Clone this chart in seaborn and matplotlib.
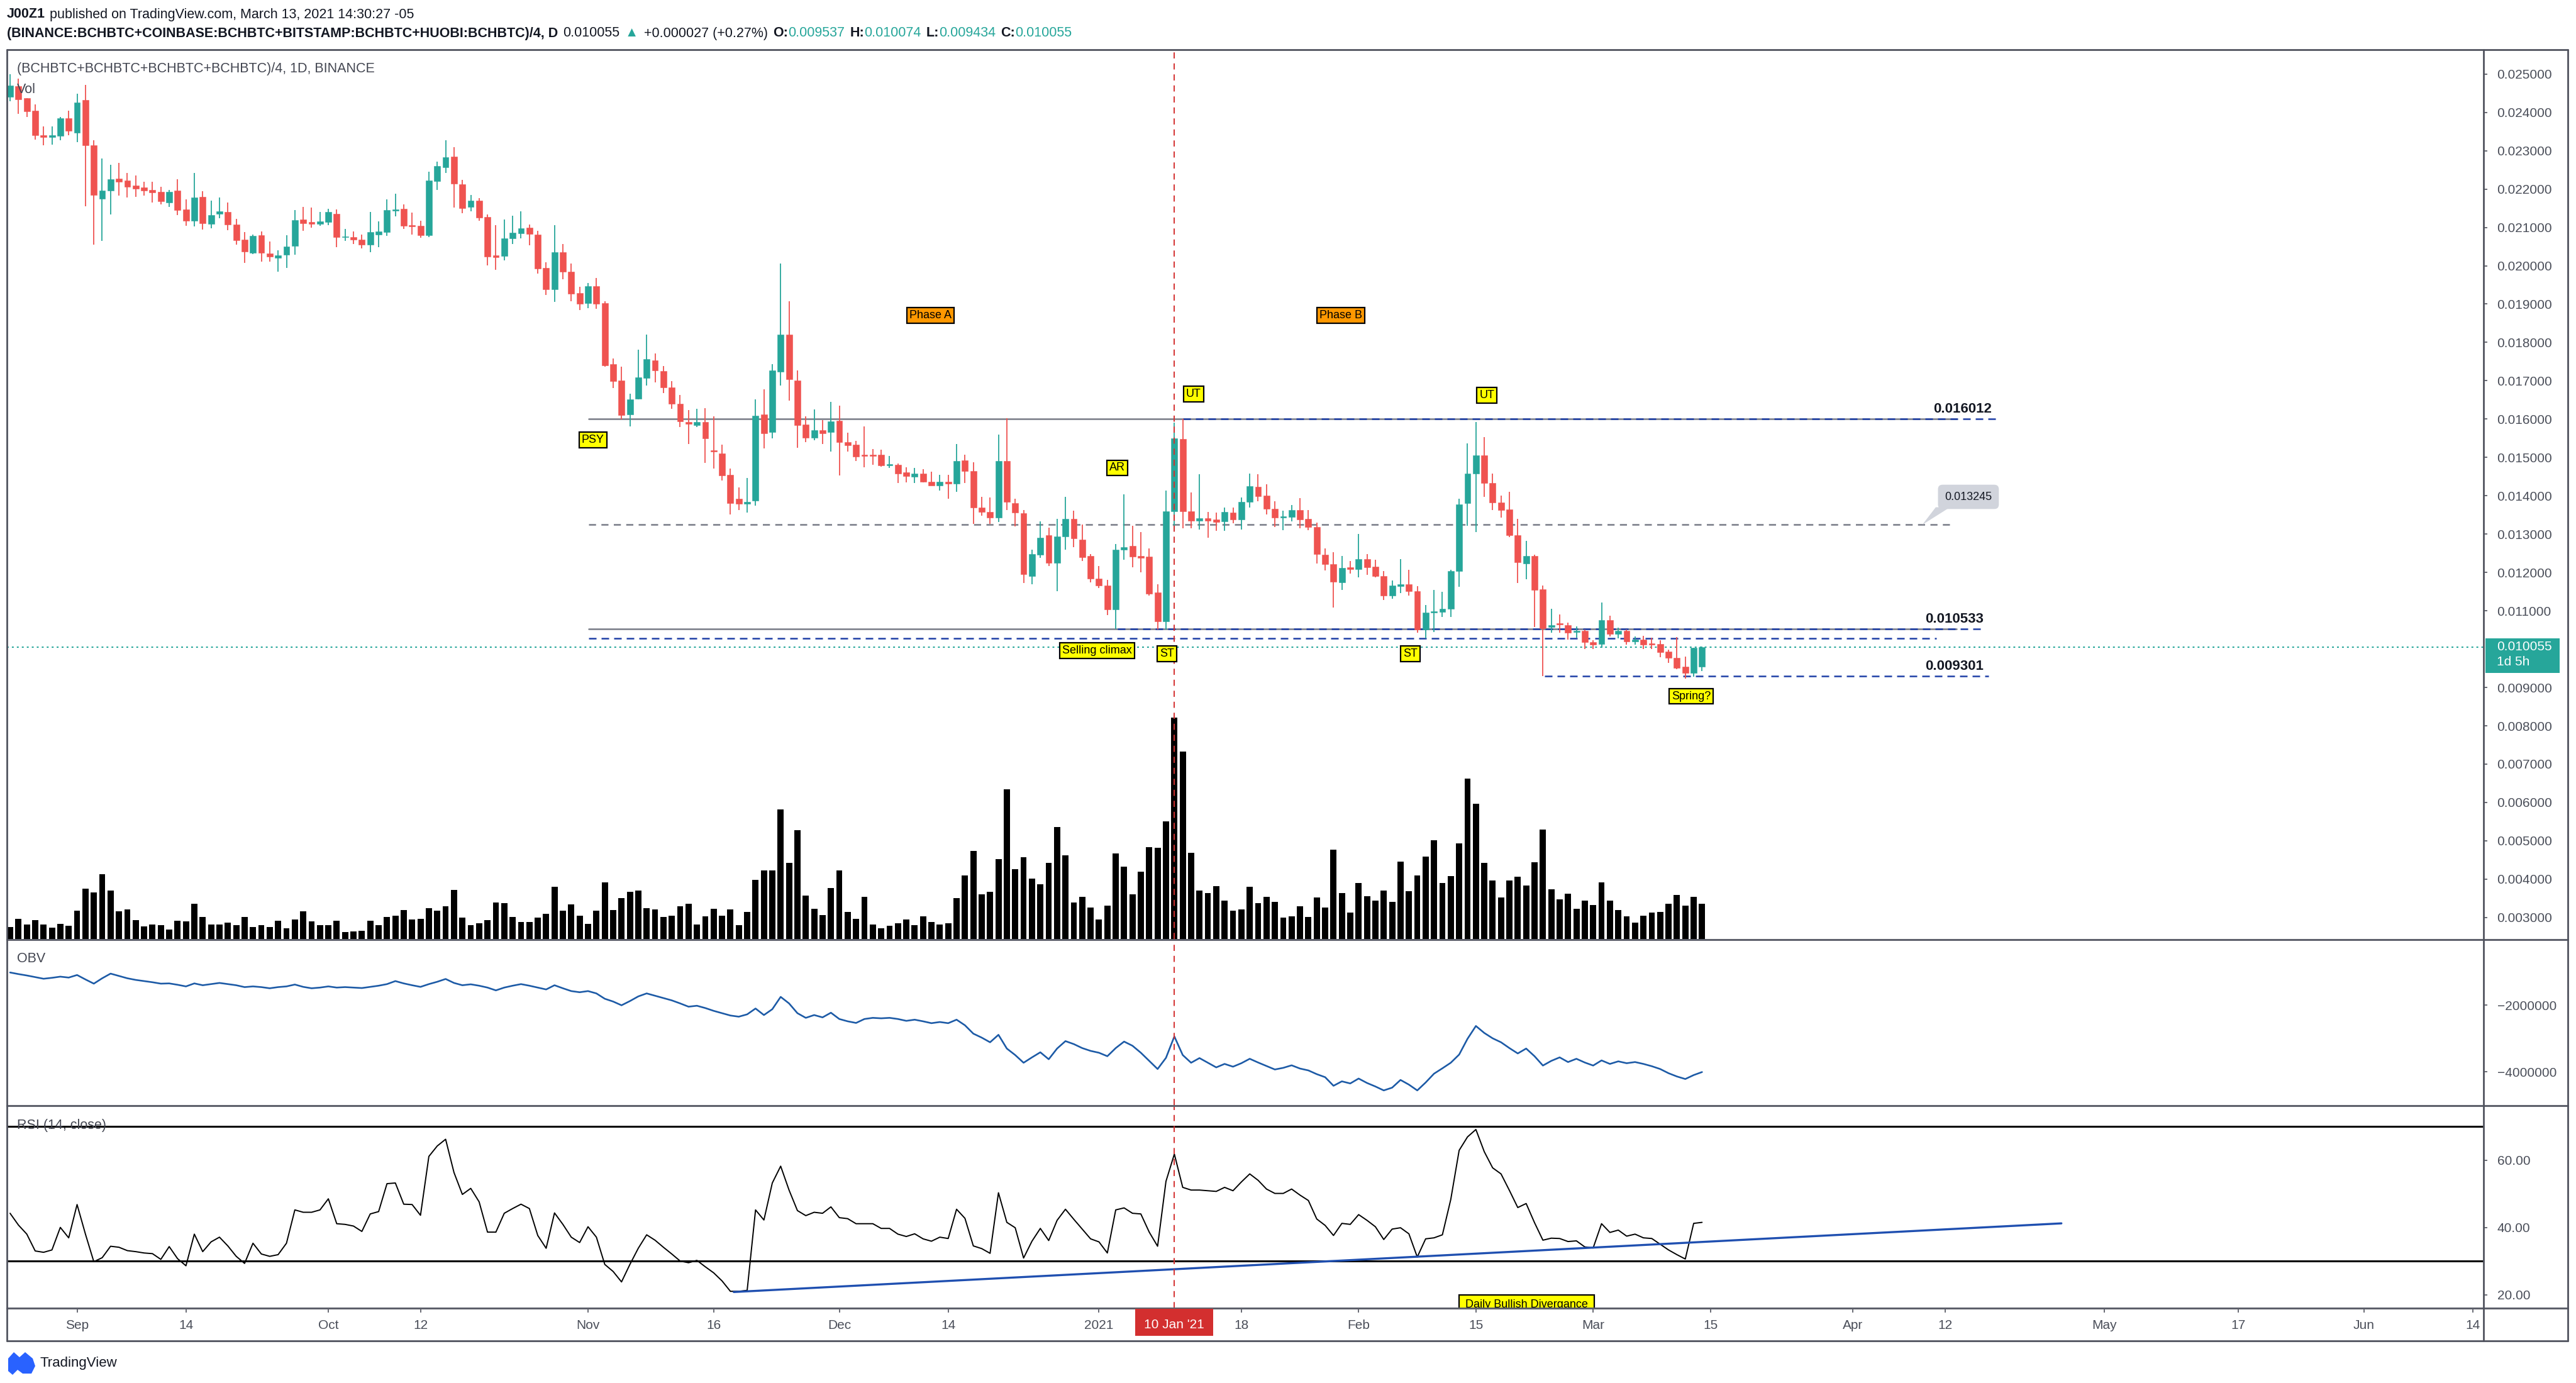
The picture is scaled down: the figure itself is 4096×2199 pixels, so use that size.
import numpy as np
import pandas as pd
import matplotlib
matplotlib.use("Agg")
import matplotlib.pyplot as plt
import seaborn as sns
from matplotlib.lines import Line2D
from matplotlib.patches import Rectangle, Polygon
from matplotlib.offsetbox import TextArea, HPacker, AnnotationBbox

# ---------------- data ----------------
start_date = "2020-08-24"

opens = [
    .024405, .024678, .024378, .024044, .023399, .023350, .023393, .023842, .023475, .024317,
    .023136, .021742, .021966, .022273, .022223, .022087, .022043, .021977, .021923, .021655,
    .021966, .021469, .021179, .021797, .021097, .021348, .021398, .021075, .020676, .020337,
    .020796, .020326, .020211, .020293, .020512, .021201, .021135, .021097, .021146, .021354,
    .020741, .020747, .020687, .020556, .020818, .020873, .021441, .021485, .021064, .021037,
    .020796, .022212, .022573, .022847, .022119, .021540, .021698, .021272, .020271, .020260,
    .020714, .020845, .020987, .020813, .019943, .019385, .020359, .019839, .019282, .019025,
    .019473, .019018, .017425, .017005, .016123, .016528, .017069, .017531, .017247, .016820,
    .016393, .015931, .015845, .015931, .015177, .015105, .014550, .013924, .013796, .013868,
    .016123, .015660, .017240, .018207, .017012, .015860, .015518, .015717, .015653, .015959,
    .015397, .015326, .015070, .015063, .015077, .014792, .014814, .014614, .014494, .014579,
    .014366, .014273, .014366, .014309, .014920, .014636, .013690, .013583, .013426, .014913,
    .013811, .013547, .011911, .012459, .012978, .012253, .012943, .013391, .012850, .012423,
    .011840, .011662, .011043, .012587, .012693, .012428, .012408, .011476, .010721, .013598,
    .015482, .013598, .013347, .013421, .013387, .013326, .013564, .013380, .013836, .014231,
    .014000, .013666, .013428, .013449, .013632, .013394, .013190, .012462, .012218, .011741,
    .012136, .012082, .012354, .012156, .011898, .011401, .011646, .011694, .011503, .010517,
    .010946, .010966, .011048, .012034, .013802, .014571, .015047, .014333, .013816, .013646,
    .012966, .012238, .012428, .011558, .010572, .010660, .010626, .010449, .010470, .010177,
    .010130, .010755, .010388, .010470, .010198, .010245, .010143, .010130, .009937, .009776,
    .009546, .009373, .009537,
]
highs = [
    .024990, .024881, .024380, .024203, .023634, .023634, .023880, .024044, .024482, .024717,
    .023268, .022792, .022639, .022683, .022420, .022349, .022190, .022190, .022059, .021977,
    .022256, .021737, .022420, .021950, .021693, .021786, .021649, .021217, .020873, .020818,
    .020900, .020632, .020408, .020791, .021452, .021529, .021518, .021398, .021491, .021463,
    .020960, .020900, .020818, .021398, .021157, .021726, .021873, .021600, .021381, .021173,
    .022447, .022721, .023268, .023093, .022240, .021846, .021764, .021337, .021064, .021201,
    .021299, .021419, .021070, .020916, .020085, .021064, .020561, .020058, .019457, .019549,
    .019680, .019075, .017588, .017361, .016663, .017809, .018207, .017709, .017389, .016998,
    .016628, .016229, .016272, .016286, .016073, .015326, .014707, .014223, .014458, .016514,
    .016784, .017425, .020057, .019075, .017261, .016073, .016251, .015966, .016443, .016357,
    .015646, .015433, .015802, .015219, .015205, .015041, .014849, .014736, .014721, .014686,
    .014629, .014543, .014543, .015347, .015077, .014878, .013974, .013953, .015596, .016023,
    .013924, .013619, .012587, .013334, .013170, .013391, .013974, .013604, .013242, .012480,
    .012160, .011804, .012744, .014045, .013224, .013054, .012626, .011694, .014142, .015910,
    .016012, .014088, .014564, .013578, .013564, .013700, .013687, .013959, .014584, .014564,
    .014292, .013850, .013612, .013755, .013938, .013619, .013292, .012626, .012530, .012422,
    .012306, .013000, .012476, .012326, .012034, .011796, .012340, .012068, .011639, .011150,
    .011537, .011490, .012068, .013918, .015366, .015924, .015536, .014584, .014006, .014108,
    .013394, .012830, .012462, .011660, .011048, .010898, .010687, .010585, .010504, .010232,
    .011218, .010878, .010558, .010504, .010334, .010354, .010300, .010232, .009983, .010311,
    .009811, .010040, .010074,
]
lows = [
    .024296, .023968, .023886, .023290, .023142, .023159, .023279, .023410, .023229, .021545,
    .020556, .020654, .021343, .021830, .021775, .021802, .021830, .021655, .021594, .021534,
    .021327, .021042, .021026, .020949, .020982, .021244, .020933, .020550, .020080, .020298,
    .020113, .020113, .019850, .019949, .020293, .020916, .020998, .021037, .021064, .020484,
    .020654, .020561, .020452, .020359, .020479, .020780, .021288, .020960, .020818, .020731,
    .020741, .021977, .022420, .021518, .021370, .021425, .021179, .020014, .019894, .020135,
    .020572, .020714, .020539, .019790, .019232, .019057, .019648, .019074, .018850, .018893,
    .018883, .017375, .016806, .015988, .015802, .016514, .016877, .016962, .016670, .016272,
    .015788, .015347, .015788, .014863, .014707, .014401, .013512, .013633, .013569, .013740,
    .015241, .015504, .016870, .016486, .015255, .015397, .015447, .015347, .015148, .014522,
    .015148, .014899, .014736, .014807, .014757, .014721, .014330, .014351, .014330, .014344,
    .014259, .014138, .013924, .014095, .014330, .013263, .013476, .013263, .013313, .013619,
    .013206, .011719, .011698, .012388, .012175, .011506, .012587, .012658, .012303, .011747,
    .011591, .010880, .010524, .012338, .012136, .012000, .011401, .010517, .010517, .013088,
    .013156, .013156, .013122, .012898, .013088, .013088, .013278, .013122, .013687, .013850,
    .013510, .013190, .013102, .013326, .013156, .013102, .012238, .012054, .011082, .011537,
    .011966, .011878, .011932, .011864, .011286, .011320, .011456, .011401, .010436, .010286,
    .010449, .010844, .010844, .011626, .013224, .013054, .013972, .013619, .013428, .012918,
    .011728, .011830, .010572, .009301, .010422, .010436, .010245, .010300, .009994, .009994,
    .010041, .010334, .010286, .010109, .010109, .009994, .009994, .009789, .009638, .009477,
    .009229, .009275, .009434,
]
closes = [
    .024700, .024345, .024028, .023410, .023350, .023399, .023842, .023514, .024257, .023142,
    .021851, .021966, .022251, .022196, .022065, .022015, .021955, .021912, .021687, .021934,
    .021458, .021179, .021780, .021108, .021321, .021425, .021070, .020670, .020364, .020780,
    .020331, .020233, .020271, .020495, .021184, .021113, .021097, .021152, .021398, .020741,
    .020763, .020681, .020545, .020873, .020900, .021452, .021463, .021042, .021026, .020796,
    .022218, .022601, .022830, .022136, .021507, .021698, .021261, .020244, .020228, .020714,
    .020856, .020982, .020834, .019932, .019385, .020359, .019839, .019276, .019014, .019473,
    .019004, .017403, .016983, .016101, .016521, .017083, .017567, .017261, .016827, .016393,
    .015945, .015874, .015931, .015504, .015148, .014536, .013811, .013796, .013846, .016094,
    .015625, .017261, .018207, .017033, .015845, .015518, .015717, .015625, .015945, .015397,
    .015312, .015027, .015041, .015034, .014792, .014821, .014579, .014508, .014579, .014366,
    .014273, .014366, .014309, .014899, .014650, .013690, .013583, .013426, .014913, .013832,
    .013569, .011947, .012480, .012907, .012253, .012943, .013391, .012886, .012395, .011840,
    .011662, .011043, .012587, .012666, .012408, .012388, .011442, .010721, .013598, .015489,
    .013598, .013347, .013415, .013347, .013313, .013578, .013380, .013836, .014258, .013986,
    .013666, .013428, .013449, .013619, .013374, .013190, .012476, .012224, .011762, .012116,
    .012082, .012354, .012136, .011898, .011401, .011660, .011694, .011503, .010517, .010946,
    .010980, .011048, .012034, .013782, .014571, .015060, .014333, .013816, .013619, .012966,
    .012258, .012428, .011537, .010538, .010626, .010640, .010436, .010483, .010177, .010109,
    .010755, .010388, .010470, .010198, .010252, .010116, .010109, .009926, .009776, .009506,
    .009373, .010028, .010055,
]
# volume, relative units (bar heights as read)
volume = [
    57, 97, 70, 89, 70, 54, 72, 62, 134, 240,
    222, 309, 230, 131, 140, 89, 59, 70, 65, 46,
    87, 84, 167, 106, 70, 70, 79, 65, 106, 56,
    65, 56, 87, 52, 92, 131, 84, 67, 67, 87,
    32, 35, 38, 87, 67, 106, 112, 137, 92, 97,
    147, 134, 155, 235, 103, 67, 76, 89, 175, 172,
    106, 82, 82, 103, 119, 250, 134, 164, 112, 73,
    134, 271, 137, 195, 224, 232, 147, 140, 106, 112,
    155, 167, 70, 109, 145, 112, 140, 67, 128, 282,
    326, 328, 617, 362, 520, 207, 145, 115, 244, 326,
    128, 95, 202, 70, 52, 62, 74, 92, 65, 107,
    82, 68, 74, 194, 302, 419, 214, 224, 380, 713,
    332, 389, 287, 260, 362, 535, 400, 175, 200, 150,
    92, 158, 408, 345, 212, 320, 438, 436, 560, 1055,
    894, 410, 232, 219, 251, 184, 134, 142, 249, 172,
    200, 177, 101, 107, 155, 104, 197, 150, 427, 219,
    125, 268, 205, 183, 230, 177, 370, 227, 304, 392,
    472, 266, 301, 455, 765, 645, 362, 280, 198, 280,
    298, 255, 365, 521, 238, 188, 216, 145, 183, 161,
    271, 183, 137, 109, 79, 112, 125, 128, 167, 211,
    158, 202, 167,
]
# OBV in millions
obv_m = [
    -1.022, -1.070, -1.112, -1.161, -1.210, -1.182, -1.147, -1.175, -1.098, -1.231,
    -1.357, -1.196, -1.056, -1.126, -1.196, -1.245, -1.280, -1.315, -1.357, -1.350,
    -1.391, -1.440, -1.350, -1.405, -1.371, -1.336, -1.371, -1.405, -1.461, -1.440,
    -1.461, -1.496, -1.461, -1.440, -1.384, -1.454, -1.496, -1.475, -1.440, -1.475,
    -1.461, -1.475, -1.489, -1.454, -1.419, -1.371, -1.280, -1.350, -1.405, -1.454,
    -1.371, -1.301, -1.217, -1.336, -1.405, -1.377, -1.419, -1.475, -1.559, -1.475,
    -1.419, -1.371, -1.419, -1.475, -1.531, -1.405, -1.496, -1.580, -1.615, -1.580,
    -1.650, -1.810, -1.894, -2.006, -1.880, -1.740, -1.650, -1.720, -1.789, -1.859,
    -1.950, -2.048, -2.020, -2.089, -2.173, -2.243, -2.313, -2.348, -2.278, -2.103,
    -2.299, -2.124, -1.754, -1.950, -2.243, -2.383, -2.299, -2.369, -2.229, -2.418,
    -2.487, -2.536, -2.418, -2.383, -2.397, -2.383, -2.418, -2.473, -2.438, -2.487,
    -2.543, -2.508, -2.543, -2.438, -2.606, -2.857, -2.976, -3.116, -2.892, -3.304,
    -3.499, -3.730, -3.569, -3.416, -3.625, -3.304, -3.081, -3.171, -3.290, -3.374,
    -3.430, -3.534, -3.290, -3.095, -3.220, -3.430, -3.674, -3.918, -3.583, -2.941,
    -3.499, -3.730, -3.590, -3.730, -3.869, -3.765, -3.848, -3.744, -3.611, -3.723,
    -3.827, -3.932, -3.883, -3.807, -3.904, -3.960, -4.072, -4.163, -4.421, -4.288,
    -4.351, -4.204, -4.337, -4.442, -4.560, -4.477, -4.246, -4.386, -4.560, -4.323,
    -4.058, -3.897, -3.730, -3.485, -3.011, -2.627, -2.836, -2.997, -3.116, -3.290,
    -3.451, -3.304, -3.534, -3.814, -3.674, -3.569, -3.709, -3.611, -3.723, -3.814,
    -3.660, -3.765, -3.688, -3.744, -3.709, -3.765, -3.834, -3.918, -4.044, -4.142,
    -4.218, -4.100, -4.009,
]
rsi = [
    44.2, 40.7, 38.0, 33.0, 32.6, 33.3, 40.0, 36.9, 46.8, 38.0,
    29.8, 31.0, 34.4, 34.1, 33.1, 32.8, 32.4, 32.2, 30.5, 34.3,
    30.7, 28.6, 38.0, 32.8, 35.7, 37.1, 34.5, 31.4, 29.3, 35.3,
    32.1, 31.4, 31.9, 35.3, 45.2, 44.5, 44.5, 45.2, 48.5, 41.1,
    40.9, 40.4, 38.8, 44.0, 44.7, 53.0, 53.2, 46.9, 46.8, 43.6,
    61.1, 64.2, 66.2, 56.3, 49.8, 51.6, 47.6, 38.6, 38.6, 44.2,
    45.6, 46.9, 45.6, 37.6, 33.8, 44.3, 40.9, 37.1, 35.5, 40.2,
    37.1, 29.0, 26.9, 23.8, 29.0, 33.8, 37.8, 36.2, 34.1, 32.1,
    30.0, 29.5, 30.2, 28.3, 26.5, 24.1, 21.0, 21.0, 21.3, 45.2,
    42.2, 53.2, 58.2, 51.1, 45.0, 43.5, 44.5, 44.2, 46.1, 42.9,
    42.6, 41.1, 41.1, 41.1, 39.7, 39.7, 38.0, 37.3, 38.1, 36.6,
    35.9, 37.1, 36.7, 45.4, 42.7, 34.5, 33.7, 32.3, 50.3, 41.5,
    39.9, 30.9, 35.9, 39.7, 36.1, 42.1, 45.4, 42.4, 39.5, 36.6,
    35.7, 32.4, 45.2, 45.8, 44.2, 44.0, 38.6, 34.4, 53.7, 61.8,
    51.9, 51.1, 51.1, 50.9, 50.7, 51.9, 50.9, 53.5, 55.9, 54.0,
    51.4, 50.1, 50.1, 51.4, 49.6, 48.0, 42.5, 40.6, 37.6, 41.2,
    40.9, 43.8, 42.1, 40.2, 36.4, 39.5, 39.9, 38.1, 31.2, 36.6,
    36.9, 37.8, 48.3, 62.9, 66.9, 69.1, 62.5, 57.7, 55.9, 51.0,
    45.9, 47.1, 41.4, 36.2, 36.8, 36.7, 35.8, 36.0, 34.2, 33.9,
    41.1, 38.5, 39.2, 37.4, 38.0, 36.9, 36.7, 35.0, 33.3, 31.9,
    30.6, 41.2, 41.5,
]

# drawn levels / markers
level_top = 0.016012
level_mid = 0.013245
level_low = 0.010533
level_low_b = 0.010280
level_spring = 0.009301
last_price = 0.010055
marker_date = "2021-01-10"
rsi_bands = [70, 30]
trend_x = [86.4, 244.9]
trend_y = [20.8, 41.2]

price_ticks = [round(0.003 + 0.001 * k, 3) for k in range(23) if k != 7]
obv_ticks = [-2, -4]
obv_tick_labels = ["\u22122000000", "\u22124000000"]
rsi_ticks = [20, 40, 60]
tick_dates = ["2020-09-01", "2020-09-14", "2020-10-01", "2020-10-12", "2020-11-01",
              "2020-11-16", "2020-12-01", "2020-12-14", "2021-01-01", "2021-01-18",
              "2021-02-01", "2021-02-15", "2021-03-01", "2021-03-15", "2021-04-01",
              "2021-04-12", "2021-05-01", "2021-05-17", "2021-06-01", "2021-06-14"]
tick_labels = ["Sep", "14", "Oct", "12", "Nov", "16", "Dec", "14", "2021", "18",
               "Feb", "15", "Mar", "15", "Apr", "12", "May", "17", "Jun", "14"]

for arr in (opens, highs, lows, closes, volume, obv_m, rsi):
    assert len(arr) == 203, len(arr)

# ---------------- style ----------------
UP, DOWN = "#26a69a", "#ef5350"
TEAL = "#26a69a"
TEXT = "#131722"
AXIS_TEXT = "#4a4e59"
TITLE = "#434651"
FRAME = "#50535e"
GRAY = "#787b86"
BLUE = "#1e3fa6"
OBV_BLUE = "#1c5aa6"
VRED = "#d32f2f"
YELLOW, ORANGE = "#ffff00", "#ff9800"

W, H, DPI = 4096, 2199, 100

sns.set_style("white")
plt.rcParams["font.family"] = ["Liberation Sans", "DejaVu Sans"]

df = pd.DataFrame({
    "date": pd.date_range(start_date, periods=len(closes), freq="D"),
    "open": opens, "high": highs, "low": lows, "close": closes,
    "volume": volume, "obv": obv_m, "rsi": rsi,
})
t0 = df["date"].iloc[0]
df["x"] = (df["date"] - t0).dt.days
marker_x = (pd.Timestamp(marker_date) - t0).days
tick_x = [(pd.Timestamp(d) - t0).days for d in tick_dates]


def rect(x0, y0, x1, y1):
    return [x0 / W, 1 - y1 / H, (x1 - x0) / W, (y1 - y0) / H]


def fline(x0, y0, x1, y1, **kw):
    fig.add_artist(Line2D([x0 / W, x1 / W], [1 - y0 / H, 1 - y1 / H],
                          transform=fig.transFigure, **kw))


fig = plt.figure(figsize=(W / DPI, H / DPI), dpi=DPI)
fig.patch.set_facecolor("white")

XLIM = (-0.375, 295.3)
ax_vol = fig.add_axes(rect(11, 79, 3949, 1493), label="vol")
ax = fig.add_axes(rect(11, 79, 3949, 1493), label="price")
ax_obv = fig.add_axes(rect(11, 1495, 3949, 1757), label="obv")
ax_rsi = fig.add_axes(rect(11, 1759, 3949, 2080), label="rsi")
ax_vol.set_zorder(0)
ax.set_zorder(1)
ax.patch.set_alpha(0)

for a in (ax_vol, ax, ax_obv, ax_rsi):
    a.set_xlim(*XLIM)
    for s in a.spines.values():
        s.set_visible(False)

# volume overlay
ax_vol.bar(df["x"], df["volume"], width=0.74, color="black", linewidth=0)
ax_vol.set_ylim(0, df["volume"].max() / 0.2487)
ax_vol.axis("off")

# candles
ax.set_ylim(0.002439, 0.025635)
up = df["close"] >= df["open"]
colors = np.where(up, UP, DOWN)
ax.vlines(df["x"], df["low"], df["high"], colors=colors, lw=1.3, zorder=3)
body = (df["close"] - df["open"]).abs().clip(lower=0.00003)
ax.bar(df["x"], body, bottom=np.minimum(df["open"], df["close"]), width=0.74,
       color=colors, edgecolor=colors, linewidth=0.4, zorder=4)

# levels
ax.plot([69.1, 232.4], [level_top] * 2, color=GRAY, lw=1.8, zorder=2)
ax.plot([69.1, 232.4], [level_low] * 2, color=GRAY, lw=1.8, zorder=2)
ax.plot([69.1, 231.6], [level_mid] * 2, color=GRAY, lw=1.8, ls=(0, (4.5, 3.4)), zorder=2)
dash_blue = (0, (4.8, 3.2))
ax.plot([140.0, 237.1], [level_top] * 2, color=BLUE, lw=1.8, ls=dash_blue, zorder=2)
ax.plot([132.2, 235.6], [level_low] * 2, color=BLUE, lw=1.8, ls=dash_blue, zorder=2)
ax.plot([69.1, 230.0], [level_low_b] * 2, color=BLUE, lw=1.8, ls=dash_blue, zorder=2)
ax.plot([183.2, 236.2], [level_spring] * 2, color=BLUE, lw=1.8, ls=dash_blue, zorder=2)
ax.axhline(last_price, color=TEAL, lw=1.5, ls=(0, (1.4, 2.4)), zorder=2)

for txt, xx, yy in [("0.016012", 236.6, 0.016260), ("0.010533", 235.6, 0.010782),
                    ("0.009301", 235.6, 0.009552)]:
    ax.text(xx, yy, txt, ha="right", va="center", fontsize=16, fontweight="bold",
            color=TEXT, zorder=6)

# callout for the middle level
ax.text(233.8, 0.013971, "0.013245", ha="center", va="center", fontsize=13, color=TEXT,
        zorder=7, bbox=dict(boxstyle="round,pad=0.6,rounding_size=0.4", fc="#d1d4dc", ec="none"))
ax.add_patch(Polygon([(229.9, 0.01370), (231.6, 0.01370), (228.3, level_mid)],
                     closed=True, fc="#d1d4dc", ec="none", zorder=7))

# wyckoff labels
wyckoff_labels = [
    ("PSY", 69.6, 0.015461, YELLOW),
    ("Phase A", 109.9, 0.018700, ORANGE),
    ("AR", 132.2, 0.014726, YELLOW),
    ("Selling climax", 129.8, 0.009962, YELLOW),
    ("ST", 138.1, 0.009874, YELLOW),
    ("UT", 141.3, 0.016655, YELLOW),
    ("Phase B", 158.9, 0.018702, ORANGE),
    ("UT", 176.3, 0.016614, YELLOW),
    ("ST", 167.2, 0.009874, YELLOW),
    ("Spring?", 200.7, 0.008771, YELLOW),
]
for txt, xx, yy, fc in wyckoff_labels:
    ax.text(xx, yy, txt, ha="center", va="center", fontsize=13, color="black", zorder=8,
            bbox=dict(boxstyle="square,pad=0.22", fc=fc, ec="black", lw=1.6))

# OBV pane
sns.lineplot(data=df, x="x", y="obv", ax=ax_obv, color=OBV_BLUE, lw=1.9)
ax_obv.set_ylim(-4.998, -0.055)

# RSI pane
sns.lineplot(data=df, x="x", y="rsi", ax=ax_rsi, color="black", lw=1.4)
for b in rsi_bands:
    ax_rsi.axhline(b, color="black", lw=2.2)
ax_rsi.plot(trend_x, trend_y, color="#1f4fb0", lw=2.4)
ax_rsi.set_ylim(16.0, 76.0)
# note box sitting on the pane bottom (clipped there, as in the source)
ax_rsi.add_patch(Rectangle((173.0, 14.0), 16.1, 5.92, fc=YELLOW, ec="black", lw=1.6, zorder=8))
ax_rsi.text(181.05, 16.25, "Daily Bullish Divergance", ha="center", va="baseline",
            fontsize=13, color="black", zorder=9, clip_on=True)

for a in (ax, ax_obv, ax_rsi):
    a.axvline(marker_x, color=VRED, lw=1.4, ls=(0, (5, 4)), zorder=5)
    a.set_xlabel("")
    a.set_ylabel("")
    a.grid(False)

# right-hand scales
ax.yaxis.tick_right()
ax.set_yticks(price_ticks)
ax.set_yticklabels([f"{t:.6f}" for t in price_ticks])
ax_obv.yaxis.tick_right()
ax_obv.set_yticks(obv_ticks)
ax_obv.set_yticklabels(obv_tick_labels)
ax_rsi.yaxis.tick_right()
ax_rsi.set_yticks(rsi_ticks)
ax_rsi.set_yticklabels([f"{t:.2f}" for t in rsi_ticks])
for a in (ax, ax_obv, ax_rsi):
    a.tick_params(axis="y", which="both", right=True, left=False, direction="out", length=4.5,
                  width=1.2, pad=11, labelsize=15, colors=FRAME, labelcolor=AXIS_TEXT)
ax.set_xticks([])
ax_obv.set_xticks([])
ax_rsi.set_xticks(tick_x)
ax_rsi.set_xticklabels(tick_labels)
ax_rsi.tick_params(axis="x", bottom=True, direction="out", length=5, width=1.2, pad=8,
                   labelsize=15, colors=FRAME, labelcolor=AXIS_TEXT)

# frame
for y in (79, 2132):
    fline(11, y, 4083, y, color=FRAME, lw=2.0)
for y in (1494, 1758, 2080):
    fline(11, y, 4083, y, color="#5d606b", lw=2.2)
for x in (11, 3949, 4083):
    fline(x, 79, x, 2132, color=FRAME, lw=2.0)

# last price tag on the scale
y_line = H - ax.transData.transform((0, last_price))[1]
fig.add_artist(Rectangle((3952 / W, 1 - (y_line + 41) / H), 118 / W, 55 / H,
                         transform=fig.transFigure, fc=TEAL, ec="none", zorder=6))
fig.text(3970 / W, 1 - y_line / H, "0.010055", color="white", fontsize=15, va="center", zorder=7)
fig.text(3970 / W, 1 - (y_line + 24) / H, "1d 5h", color="white", fontsize=15, va="center", zorder=7)

# date tag for the marker
x_mark = ax_rsi.transData.transform((marker_x, 0))[0]
fig.add_artist(Rectangle(((x_mark - 62) / W, 1 - 2124 / H), 124 / W, 43 / H,
                         transform=fig.transFigure, fc=VRED, ec="none", zorder=6))
fig.text(x_mark / W, 1 - 2106 / H, "10 Jan '21", color="white", fontsize=15,
         ha="center", va="center", zorder=7)

# pane captions
fig.text(27 / W, 1 - 110 / H, "(BCHBTC+BCHBTC+BCHBTC+BCHBTC)/4, 1D, BINANCE",
         fontsize=15.5, color=TITLE, va="center")
fig.text(27 / W, 1 - 142 / H, "Vol", fontsize=15.5, color=TITLE, va="center")
fig.text(27 / W, 1 - 1524 / H, "OBV", fontsize=15.5, color=TITLE, va="center")
fig.text(27 / W, 1 - 1789 / H, "RSI (14, close)", fontsize=15.5, color=TITLE, va="center")


# header lines
def piece(s, color=TEXT, weight="normal"):
    return TextArea(s, textprops=dict(color=color, fontsize=15.5, fontweight=weight))


def pair(k, v):
    return HPacker(children=[piece(k, weight="bold"), piece(v, TEAL)], sep=0, pad=0,
                   align="baseline")


line1 = HPacker(children=[piece("J00Z1", weight="bold"),
                          piece("published on TradingView.com, March 13, 2021 14:30:27 -05")],
                sep=5, pad=0, align="baseline")
line2 = HPacker(children=[
    piece("(BINANCE:BCHBTC+COINBASE:BCHBTC+BITSTAMP:BCHBTC+HUOBI:BCHBTC)/4, D", weight="bold"),
    piece("0.010055"), piece("\u25b2", TEAL), piece("+0.000027 (+0.27%)"),
    pair("O:", "0.009537"), pair("H:", "0.010074"), pair("L:", "0.009434"),
    pair("C:", "0.010055"),
], sep=6, pad=0, align="baseline")
for box, yy in ((line1, 23), (line2, 53)):
    fig.add_artist(AnnotationBbox(box, (11 / W, 1 - yy / H), xycoords="figure fraction",
                                  box_alignment=(0, 0.5), frameon=False, pad=0,
                                  annotation_clip=False))

# TradingView mark
logo = [(13, 2180), (13, 2160), (22, 2150), (31, 2158), (40, 2150), (52, 2160),
        (56, 2172), (50, 2184), (36, 2184), (28, 2178), (20, 2186)]
fig.add_artist(Polygon([(x / W, 1 - y / H) for x, y in logo], closed=True,
                       transform=fig.transFigure, fc="#2962ff", ec="none"))
fig.text(64 / W, 1 - 2167 / H, "TradingView", fontsize=16, color=TEXT, va="center")

fig.savefig("out.png", dpi=DPI, facecolor="white")
